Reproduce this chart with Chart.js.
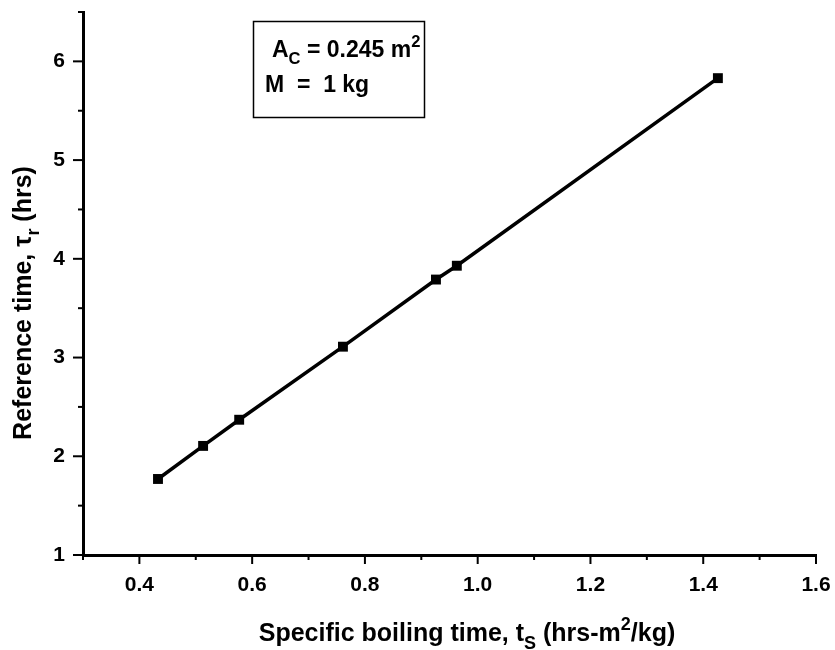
<!DOCTYPE html>
<html><head><meta charset="utf-8">
<script src="https://cdn.jsdelivr.net/npm/chart.js@4"></script>
<style>html,body{margin:0;padding:0;background:#fff}#wrap{width:835px;height:650px}</style>
</head><body><div id="wrap"><canvas id="c" width="835" height="650"></canvas></div>
<script>
const tsValues = [0.433, 0.513, 0.577, 0.761, 0.926, 0.963, 1.426];
const tauValues = [1.77, 2.105, 2.37, 3.11, 3.79, 3.93, 5.83];
const xTicks = [0.4, 0.6, 0.8, 1.0, 1.2, 1.4, 1.6];
const yTicks = [1, 2, 3, 4, 5, 6];
const xRange = [0.3, 1.6];
const yRange = [1, 6.5];
const xTitleSegs = [{t:'Specific boiling time, t'},{t:'S',s:'sub'},{t:' (hrs-m'},{t:'2',s:'sup'},{t:'/kg)'}];
const yTitleSegs = [{t:'Reference time, \u03C4'},{t:'r',s:'sub'},{t:' (hrs)'}];
const noteLine1 = [{t:'A'},{t:'C',s:'sub'},{t:' = 0.245 m'},{t:'2',s:'sup'}];
const noteLine2 = [{t:'M  =  1 kg'}];

const FAM = '"Liberation Sans", Arial, sans-serif';
function drawRich(ctx, segs, x, y, size, align){
  const widths = segs.map(s=>{
    const fs = s.s ? size*0.72 : size;
    ctx.font = 'bold '+fs+'px '+FAM;
    return ctx.measureText(s.t).width;
  });
  const total = widths.reduce((a,b)=>a+b,0);
  let cx = align==='center' ? x - total/2 : x;
  ctx.textAlign='left'; ctx.textBaseline='alphabetic'; ctx.fillStyle='#000';
  segs.forEach((s,i)=>{
    const fs = s.s ? size*0.72 : size;
    ctx.font = 'bold '+fs+'px '+FAM;
    let dy = 0;
    if (s.s==='sub') dy = size*0.32;
    if (s.s==='sup') dy = -size*0.45;
    ctx.fillText(s.t, cx, y+dy);
    cx += widths[i];
  });
}

const decor = {
  id:'decor',
  afterDraw(chart){
    const ctx = chart.ctx, xs = chart.scales.x, ys = chart.scales.y;
    const ca = chart.chartArea;
    ctx.save();
    ctx.strokeStyle='#000'; ctx.lineWidth=2;
    for (let i=0;i<=13;i++){
      const v = +(xRange[0]+i*0.1).toFixed(2);
      const major = xTicks.some(t=>Math.abs(t-v)<1e-6);
      const px = xs.getPixelForValue(v);
      ctx.beginPath(); ctx.moveTo(px, ca.bottom); ctx.lineTo(px, ca.bottom+(major?9:5)); ctx.stroke();
    }
    for (let i=0;i<=11;i++){
      const v = yRange[0]+i*0.5;
      const major = yTicks.some(t=>Math.abs(t-v)<1e-6);
      const py = ys.getPixelForValue(v);
      ctx.beginPath(); ctx.moveTo(ca.left, py); ctx.lineTo(ca.left-(major?10:5), py); ctx.stroke();
    }
    drawRich(ctx, xTitleSegs, 467, 641, 25, 'center');
    ctx.save();
    ctx.translate(31, 303); ctx.rotate(-Math.PI/2);
    drawRich(ctx, yTitleSegs, 0, 0, 25, 'center');
    ctx.restore();
    ctx.lineWidth=1.5;
    ctx.strokeRect(253.5, 21.5, 171, 96);
    drawRich(ctx, noteLine1, 272, 57, 23, 'left');
    drawRich(ctx, noteLine2, 265, 92, 23, 'left');
    ctx.restore();
  }
};

new Chart(document.getElementById('c'), {
  type:'scatter',
  data:{ datasets:[{
    data: tsValues.map((v,i)=>({x:v, y:tauValues[i]})),
    showLine:true, borderColor:'#000', borderWidth:3.5,
    pointStyle:'rect', pointRadius:7, pointBackgroundColor:'#000', pointBorderColor:'#000', pointBorderWidth:0,
    tension:0
  }]},
  options:{
    responsive:false, animation:false, devicePixelRatio:1,
    layout:{padding:{top:12,right:19,bottom:0,left:0}},
    plugins:{legend:{display:false}, tooltip:{enabled:false}},
    scales:{
      x:{ type:'linear', min:xRange[0], max:xRange[1],
        grid:{display:false}, border:{display:true,color:'#000',width:3},
        afterBuildTicks:(s)=>{ s.ticks = xTicks.map(v=>({value:v})); },
        afterFit:(s)=>{ s.height = 95; s.paddingLeft = 0; s.paddingRight = 0; },
        ticks:{ padding:10, color:'#000', font:{family:FAM, weight:'bold', size:21}, callback:(v)=>Number(v).toFixed(1), maxRotation:0 }
      },
      y:{ type:'linear', min:yRange[0], max:yRange[1],
        grid:{display:false}, border:{display:true,color:'#000',width:3},
        afterBuildTicks:(s)=>{ s.ticks = yTicks.map(v=>({value:v})); },
        afterFit:(s)=>{ s.width = 83; s.paddingTop = 0; s.paddingBottom = 0; },
        ticks:{ padding:10, color:'#000', font:{family:FAM, weight:'bold', size:21}, callback:(v)=>String(v) }
      }
    }
  },
  plugins:[decor]
});
</script>
</body></html>
